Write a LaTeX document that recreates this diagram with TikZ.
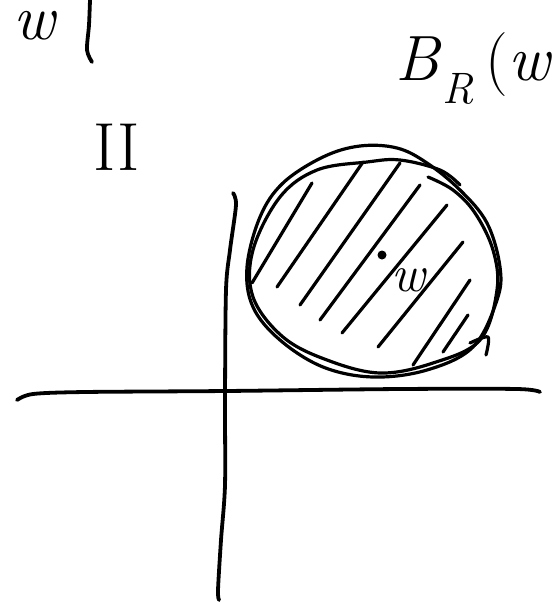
\documentclass[tikz,border=0pt]{standalone}
\begin{document}
\begin{tikzpicture}[x=1pt,y=-1pt,
  ink/.style={line width=3.8pt,line cap=round,line join=round,black},
  thinink/.style={line width=3.2pt,line cap=round,line join=round,black},
  bigtext/.style={inner sep=0pt,font=\fontsize{62}{62}\selectfont}]
\useasboundingbox (0,0) rectangle (552,603);
% axes
\draw[ink] plot[smooth,tension=0.5] coordinates {(17,400) (33,394) (85,392) (226,391) (400,389) (517,389) (540,392)};
\draw[ink] plot[smooth,tension=0.5] coordinates {(233,193) (236,205) (230,250) (226,290) (225,400) (225,485) (221,540) (218,590) (219,600)};
% disc outline (two rough strokes)
\draw[thinink] plot[smooth cycle,tension=0.6] coordinates {(360,146) (323,157) (283,183) (260,217) (247,267) (253,307) (280,340) (323,367) (373,377) (427,370) (473,347) (497,300) (500,267) (487,223) (460,190) (427,163) (397,148)};
\draw[thinink] plot[smooth,tension=0.6] coordinates {(428,177) (453,190) (475,213) (493,250) (497,290) (480,340) (433,363) (380,373) (327,360) (283,337) (253,297) (253,250) (280,197) (317,170) (367,162) (400,160) (440,170) (460,185)};
\draw[thinink] plot[smooth,tension=0.5] coordinates {(470,343) (488,337) (486,355)};
% hatching
\foreach \a/\b/\c/\d in {252/283/312/183, 277/287/363/162, 300/305/400/163, 320/320/420/185, 342/333/447/205, 378/347/463/242, 413/365/470/280, 443/352/468/315}
  \draw[thinink] (\a,\b) -- (\c,\d);
% centre point
\fill (382,255) circle (4.5pt);
\node[inner sep=0pt,font=\fontsize{52}{52}\selectfont\itshape,anchor=base] (wpt) at (408,291) {w};
% labels
\node[bigtext,anchor=base,font=\fontsize{64}{64}\selectfont\itshape] (wlab) at (34,39) {w};
\draw[ink] plot[smooth,tension=0.5] coordinates {(90,0) (89,25) (87,50) (92,62)};
\node[bigtext,anchor=base west,font=\fontsize{64}{64}\selectfont] (ball) at (395,80) {\textit{B}\kern1pt\raisebox{-0.36em}{\fontsize{44}{44}\selectfont\itshape R}\kern12pt(\textit{w})};
\node[bigtext,anchor=base,font=\fontsize{68}{68}\selectfont\rmfamily] (quad) at (117,170) {II};
\end{tikzpicture}
\end{document}
